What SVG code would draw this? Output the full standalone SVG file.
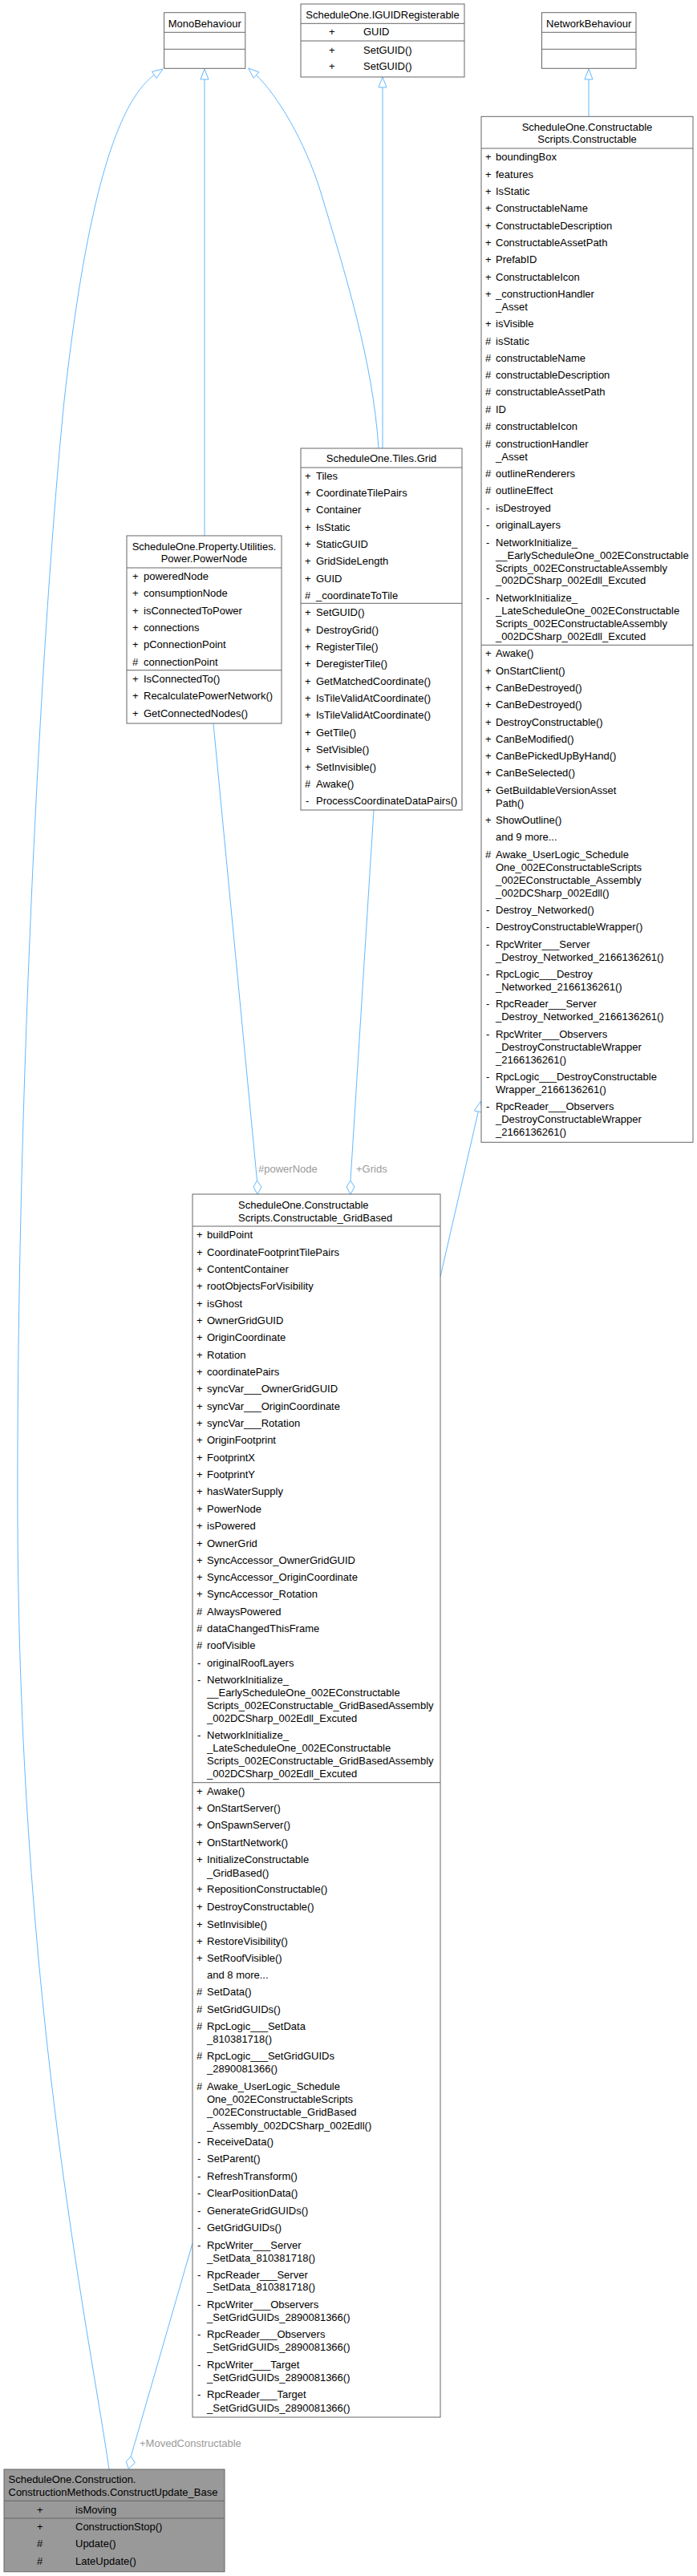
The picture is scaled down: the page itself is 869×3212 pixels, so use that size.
<svg xmlns="http://www.w3.org/2000/svg" width="869" height="3212" viewBox="0 0 869 3212">
<style>
.bg{fill:#fff}
.box{fill:#fff;stroke:#666;stroke-width:1}
.sel{fill:#999;stroke:#666;stroke-width:1}
.sep{stroke:#666;stroke-width:1;fill:none}
text{font-family:"Liberation Sans",Arial,sans-serif;font-size:13px;fill:#000}
.c{text-anchor:middle}
.e{stroke:#63b8ff;stroke-width:1;fill:none}
.ah{stroke:#63b8ff;stroke-width:1;fill:#fff}
.lbl{fill:#9a9a9a}
</style>
<rect class="bg" x="0" y="0" width="869" height="3212"/>

<g id="connectors">
  <!-- MonoBehaviour <- ConstructUpdate_Base -->
  <path class="e" d="M192.3,93.4 C150,125 110,230 80,500 C50,800 20,1400 22,1900 C25,2500 110,2900 136,3079"/>
  <polygon class="ah" points="203,86 195.1,97.5 189.5,89.3"/>
  <!-- MonoBehaviour <- PowerNode -->
  <path class="e" d="M255,99 L255,668"/>
  <polygon class="ah" points="255,86 260,99 250,99"/>
  <!-- MonoBehaviour <- Grid -->
  <path class="e" d="M319.5,93.6 C345,118 380,175 400,240 C430,340 465,450 472,559"/>
  <polygon class="ah" points="309.7,85 322.8,89.8 316.2,97.4"/>
  <!-- IGUIDRegisterable <- Grid -->
  <path class="e" d="M477,109 L477,559"/>
  <polygon class="ah" points="477,96 482,109 472,109"/>
  <!-- NetworkBehaviour <- Constructable -->
  <path class="e" d="M734,99 L734,145"/>
  <polygon class="ah" points="734,86 739,99 729,99"/>
  <!-- Constructable <- GridBased -->
  <path class="e" d="M596.3,1386 L549,1592"/>
  <polygon class="ah" points="599.3,1373.3 601.2,1387.1 591.4,1384.9"/>
  <!-- PowerNode -> GridBased (#powerNode) -->
  <path class="e" d="M266,902 L320.5,1472"/>
  <polygon class="ah" points="320.5,1472 326,1480 321,1489 316,1480"/>
  <text class="lbl" x="322" y="1462">#powerNode</text>
  <!-- Grid -> GridBased (+Grids) -->
  <path class="e" d="M466,1010 L437,1472"/>
  <polygon class="ah" points="437,1472 442,1480 437,1489 432,1480"/>
  <text class="lbl" x="444" y="1462">+Grids</text>
  <!-- GridBased -> ConstructUpdate_Base (+MovedConstructable) -->
  <path class="e" d="M240,2797 L163.3,3062.7"/>
  <polygon class="ah" points="163.3,3062.7 168.3,3071 160.3,3078.3 157.3,3069.3"/>
  <text class="lbl" x="174" y="3051">+MovedConstructable</text>
</g>

<g id="MonoBehaviour">
  <rect class="box" x="204.6" y="15.7" width="101.2" height="69.6"/>
  <line class="sep" x1="204.6" y1="40.3" x2="305.8" y2="40.3"/>
  <line class="sep" x1="204.6" y1="61.3" x2="305.8" y2="61.3"/>
  <text class="c" x="255.2" y="34.2">MonoBehaviour</text>
</g>

<g id="IGUIDRegisterable">
  <rect class="box" x="375" y="5" width="204" height="91"/>
  <line class="sep" x1="375" y1="29.3" x2="579" y2="29.3"/>
  <line class="sep" x1="375" y1="51" x2="579" y2="51"/>
  <text class="c" x="477" y="23.2">ScheduleOne.IGUIDRegisterable</text>
  <text y="44"><tspan x="410">+</tspan><tspan x="453">GUID</tspan></text>
  <text y="66.5"><tspan x="410">+</tspan><tspan x="453">SetGUID()</tspan></text>
  <text y="87"><tspan x="410">+</tspan><tspan x="453">SetGUID()</tspan></text>
</g>

<g id="NetworkBehaviour">
  <rect class="box" x="675.5" y="15.7" width="117.5" height="69.6"/>
  <line class="sep" x1="675.5" y1="40.3" x2="793" y2="40.3"/>
  <line class="sep" x1="675.5" y1="61.3" x2="793" y2="61.3"/>
  <text class="c" x="734.2" y="34.2">NetworkBehaviour</text>
</g>

<g id="Constructable">
  <rect class="box" x="600" y="145.3" width="264" height="1279"/>
  <line class="sep" x1="600" y1="185" x2="864" y2="185"/>
  <line class="sep" x1="600" y1="804.3" x2="864" y2="804.3"/>
  <text class="c" x="732" y="163">ScheduleOne.Constructable</text>
  <text class="c" x="732" y="178.3">Scripts.Constructable</text>
  <text y="200"><tspan x="605">+</tspan><tspan x="618">boundingBox</tspan></text>
  <text y="222"><tspan x="605">+</tspan><tspan x="618">features</tspan></text>
  <text y="243"><tspan x="605">+</tspan><tspan x="618">IsStatic</tspan></text>
  <text y="264"><tspan x="605">+</tspan><tspan x="618">ConstructableName</tspan></text>
  <text y="285.5"><tspan x="605">+</tspan><tspan x="618">ConstructableDescription</tspan></text>
  <text y="306.5"><tspan x="605">+</tspan><tspan x="618">ConstructableAssetPath</tspan></text>
  <text y="328"><tspan x="605">+</tspan><tspan x="618">PrefabID</tspan></text>
  <text y="349.5"><tspan x="605">+</tspan><tspan x="618">ConstructableIcon</tspan></text>
  <text y="371"><tspan x="605">+</tspan><tspan x="618">_constructionHandler</tspan></text>
  <text x="618" y="387">_Asset</text>
  <text y="408"><tspan x="605">+</tspan><tspan x="618">isVisible</tspan></text>
  <text y="429.5"><tspan x="605">#</tspan><tspan x="618">isStatic</tspan></text>
  <text y="450.5"><tspan x="605">#</tspan><tspan x="618">constructableName</tspan></text>
  <text y="472"><tspan x="605">#</tspan><tspan x="618">constructableDescription</tspan></text>
  <text y="493"><tspan x="605">#</tspan><tspan x="618">constructableAssetPath</tspan></text>
  <text y="514.5"><tspan x="605">#</tspan><tspan x="618">ID</tspan></text>
  <text y="536"><tspan x="605">#</tspan><tspan x="618">constructableIcon</tspan></text>
  <text y="558"><tspan x="605">#</tspan><tspan x="618">constructionHandler</tspan></text>
  <text x="618" y="573.5">_Asset</text>
  <text y="595"><tspan x="605">#</tspan><tspan x="618">outlineRenderers</tspan></text>
  <text y="616"><tspan x="605">#</tspan><tspan x="618">outlineEffect</tspan></text>
  <text y="638"><tspan x="606">-</tspan><tspan x="618">isDestroyed</tspan></text>
  <text y="659"><tspan x="606">-</tspan><tspan x="618">originalLayers</tspan></text>
  <text y="680.5"><tspan x="606">-</tspan><tspan x="618">NetworkInitialize_</tspan></text>
  <text x="618" y="696.5">__EarlyScheduleOne_002EConstructable</text>
  <text x="618" y="712.5">Scripts_002EConstructableAssembly</text>
  <text x="618" y="728">_002DCSharp_002Edll_Excuted</text>
  <text y="750"><tspan x="606">-</tspan><tspan x="618">NetworkInitialize_</tspan></text>
  <text x="618" y="766">_LateScheduleOne_002EConstructable</text>
  <text x="618" y="782">Scripts_002EConstructableAssembly</text>
  <text x="618" y="797.5">_002DCSharp_002Edll_Excuted</text>
  <text y="819"><tspan x="605">+</tspan><tspan x="618">Awake()</tspan></text>
  <text y="840.5"><tspan x="605">+</tspan><tspan x="618">OnStartClient()</tspan></text>
  <text y="862"><tspan x="605">+</tspan><tspan x="618">CanBeDestroyed()</tspan></text>
  <text y="883"><tspan x="605">+</tspan><tspan x="618">CanBeDestroyed()</tspan></text>
  <text y="904.5"><tspan x="605">+</tspan><tspan x="618">DestroyConstructable()</tspan></text>
  <text y="925.5"><tspan x="605">+</tspan><tspan x="618">CanBeModified()</tspan></text>
  <text y="947"><tspan x="605">+</tspan><tspan x="618">CanBePickedUpByHand()</tspan></text>
  <text y="968"><tspan x="605">+</tspan><tspan x="618">CanBeSelected()</tspan></text>
  <text y="989.5"><tspan x="605">+</tspan><tspan x="618">GetBuildableVersionAsset</tspan></text>
  <text x="618" y="1006">Path()</text>
  <text y="1027"><tspan x="605">+</tspan><tspan x="618">ShowOutline()</tspan></text>
  <text x="618" y="1048">and 9 more...</text>
  <text y="1070"><tspan x="605">#</tspan><tspan x="618">Awake_UserLogic_Schedule</tspan></text>
  <text x="618" y="1085.5">One_002EConstructableScripts</text>
  <text x="618" y="1102">_002EConstructable_Assembly</text>
  <text x="618" y="1118">_002DCSharp_002Edll()</text>
  <text y="1139"><tspan x="606">-</tspan><tspan x="618">Destroy_Networked()</tspan></text>
  <text y="1160"><tspan x="606">-</tspan><tspan x="618">DestroyConstructableWrapper()</tspan></text>
  <text y="1182"><tspan x="606">-</tspan><tspan x="618">RpcWriter___Server</tspan></text>
  <text x="618" y="1198">_Destroy_Networked_2166136261()</text>
  <text y="1219"><tspan x="606">-</tspan><tspan x="618">RpcLogic___Destroy</tspan></text>
  <text x="618" y="1235">_Networked_2166136261()</text>
  <text y="1256"><tspan x="606">-</tspan><tspan x="618">RpcReader___Server</tspan></text>
  <text x="618" y="1272">_Destroy_Networked_2166136261()</text>
  <text y="1294"><tspan x="606">-</tspan><tspan x="618">RpcWriter___Observers</tspan></text>
  <text x="618" y="1309.5">_DestroyConstructableWrapper</text>
  <text x="618" y="1325.5">_2166136261()</text>
  <text y="1347"><tspan x="606">-</tspan><tspan x="618">RpcLogic___DestroyConstructable</tspan></text>
  <text x="618" y="1363">Wrapper_2166136261()</text>
  <text y="1384"><tspan x="606">-</tspan><tspan x="618">RpcReader___Observers</tspan></text>
  <text x="618" y="1400">_DestroyConstructableWrapper</text>
  <text x="618" y="1416">_2166136261()</text>
</g>

<g id="Grid">
  <rect class="box" x="375" y="559" width="201" height="451"/>
  <line class="sep" x1="375" y1="583" x2="576" y2="583"/>
  <line class="sep" x1="375" y1="752.3" x2="576" y2="752.3"/>
  <text class="c" x="475.5" y="575.5">ScheduleOne.Tiles.Grid</text>
  <text y="597.5"><tspan x="380">+</tspan><tspan x="394">Tiles</tspan></text>
  <text y="619"><tspan x="380">+</tspan><tspan x="394">CoordinateTilePairs</tspan></text>
  <text y="640"><tspan x="380">+</tspan><tspan x="394">Container</tspan></text>
  <text y="661.5"><tspan x="380">+</tspan><tspan x="394">IsStatic</tspan></text>
  <text y="682.5"><tspan x="380">+</tspan><tspan x="394">StaticGUID</tspan></text>
  <text y="704"><tspan x="380">+</tspan><tspan x="394">GridSideLength</tspan></text>
  <text y="726"><tspan x="380">+</tspan><tspan x="394">GUID</tspan></text>
  <text y="747"><tspan x="380">#</tspan><tspan x="394">_coordinateToTile</tspan></text>
  <text y="768"><tspan x="380">+</tspan><tspan x="394">SetGUID()</tspan></text>
  <text y="789.5"><tspan x="380">+</tspan><tspan x="394">DestroyGrid()</tspan></text>
  <text y="810.5"><tspan x="380">+</tspan><tspan x="394">RegisterTile()</tspan></text>
  <text y="832"><tspan x="380">+</tspan><tspan x="394">DeregisterTile()</tspan></text>
  <text y="854"><tspan x="380">+</tspan><tspan x="394">GetMatchedCoordinate()</tspan></text>
  <text y="875"><tspan x="380">+</tspan><tspan x="394">IsTileValidAtCoordinate()</tspan></text>
  <text y="896"><tspan x="380">+</tspan><tspan x="394">IsTileValidAtCoordinate()</tspan></text>
  <text y="918"><tspan x="380">+</tspan><tspan x="394">GetTile()</tspan></text>
  <text y="939"><tspan x="380">+</tspan><tspan x="394">SetVisible()</tspan></text>
  <text y="960.5"><tspan x="380">+</tspan><tspan x="394">SetInvisible()</tspan></text>
  <text y="982"><tspan x="380">#</tspan><tspan x="394">Awake()</tspan></text>
  <text y="1003"><tspan x="381">-</tspan><tspan x="394">ProcessCoordinateDataPairs()</tspan></text>
</g>

<g id="PowerNode">
  <rect class="box" x="158" y="668" width="193" height="234"/>
  <line class="sep" x1="158" y1="708" x2="351" y2="708"/>
  <line class="sep" x1="158" y1="835.7" x2="351" y2="835.7"/>
  <text class="c" x="254.5" y="686">ScheduleOne.Property.Utilities.</text>
  <text class="c" x="254.5" y="701.2">Power.PowerNode</text>
  <text y="723"><tspan x="165">+</tspan><tspan x="179">poweredNode</tspan></text>
  <text y="744"><tspan x="165">+</tspan><tspan x="179">consumptionNode</tspan></text>
  <text y="766"><tspan x="165">+</tspan><tspan x="179">isConnectedToPower</tspan></text>
  <text y="787"><tspan x="165">+</tspan><tspan x="179">connections</tspan></text>
  <text y="808"><tspan x="165">+</tspan><tspan x="179">pConnectionPoint</tspan></text>
  <text y="830"><tspan x="165">#</tspan><tspan x="179">connectionPoint</tspan></text>
  <text y="851"><tspan x="165">+</tspan><tspan x="179">IsConnectedTo()</tspan></text>
  <text y="872"><tspan x="165">+</tspan><tspan x="179">RecalculatePowerNetwork()</tspan></text>
  <text y="894"><tspan x="165">+</tspan><tspan x="179">GetConnectedNodes()</tspan></text>
</g>

<g id="Constructable_GridBased">
  <rect class="box" x="240" y="1489" width="309" height="1525"/>
  <line class="sep" x1="240" y1="1529" x2="549" y2="1529"/>
  <line class="sep" x1="240" y1="2222.7" x2="549" y2="2222.7"/>
  <text x="297" y="1507">ScheduleOne.Constructable</text>
  <text x="297" y="1523">Scripts.Constructable_GridBased</text>
  <text y="1544"><tspan x="245">+</tspan><tspan x="258">buildPoint</tspan></text>
  <text y="1566"><tspan x="245">+</tspan><tspan x="258">CoordinateFootprintTilePairs</tspan></text>
  <text y="1587"><tspan x="245">+</tspan><tspan x="258">ContentContainer</tspan></text>
  <text y="1608"><tspan x="245">+</tspan><tspan x="258">rootObjectsForVisibility</tspan></text>
  <text y="1630"><tspan x="245">+</tspan><tspan x="258">isGhost</tspan></text>
  <text y="1651"><tspan x="245">+</tspan><tspan x="258">OwnerGridGUID</tspan></text>
  <text y="1672"><tspan x="245">+</tspan><tspan x="258">OriginCoordinate</tspan></text>
  <text y="1694"><tspan x="245">+</tspan><tspan x="258">Rotation</tspan></text>
  <text y="1715"><tspan x="245">+</tspan><tspan x="258">coordinatePairs</tspan></text>
  <text y="1736"><tspan x="245">+</tspan><tspan x="258">syncVar___OwnerGridGUID</tspan></text>
  <text y="1758"><tspan x="245">+</tspan><tspan x="258">syncVar___OriginCoordinate</tspan></text>
  <text y="1779"><tspan x="245">+</tspan><tspan x="258">syncVar___Rotation</tspan></text>
  <text y="1800"><tspan x="245">+</tspan><tspan x="258">OriginFootprint</tspan></text>
  <text y="1822"><tspan x="245">+</tspan><tspan x="258">FootprintX</tspan></text>
  <text y="1843"><tspan x="245">+</tspan><tspan x="258">FootprintY</tspan></text>
  <text y="1864"><tspan x="245">+</tspan><tspan x="258">hasWaterSupply</tspan></text>
  <text y="1886"><tspan x="245">+</tspan><tspan x="258">PowerNode</tspan></text>
  <text y="1907"><tspan x="245">+</tspan><tspan x="258">isPowered</tspan></text>
  <text y="1928.5"><tspan x="245">+</tspan><tspan x="258">OwnerGrid</tspan></text>
  <text y="1950"><tspan x="245">+</tspan><tspan x="258">SyncAccessor_OwnerGridGUID</tspan></text>
  <text y="1971"><tspan x="245">+</tspan><tspan x="258">SyncAccessor_OriginCoordinate</tspan></text>
  <text y="1992"><tspan x="245">+</tspan><tspan x="258">SyncAccessor_Rotation</tspan></text>
  <text y="2014"><tspan x="245">#</tspan><tspan x="258">AlwaysPowered</tspan></text>
  <text y="2035"><tspan x="245">#</tspan><tspan x="258">dataChangedThisFrame</tspan></text>
  <text y="2056"><tspan x="245">#</tspan><tspan x="258">roofVisible</tspan></text>
  <text y="2078"><tspan x="246">-</tspan><tspan x="258">originalRoofLayers</tspan></text>
  <text y="2099"><tspan x="246">-</tspan><tspan x="258">NetworkInitialize_</tspan></text>
  <text x="258" y="2115">__EarlyScheduleOne_002EConstructable</text>
  <text x="258" y="2131">Scripts_002EConstructable_GridBasedAssembly</text>
  <text x="258" y="2147">_002DCSharp_002Edll_Excuted</text>
  <text y="2168"><tspan x="246">-</tspan><tspan x="258">NetworkInitialize_</tspan></text>
  <text x="258" y="2184">_LateScheduleOne_002EConstructable</text>
  <text x="258" y="2200">Scripts_002EConstructable_GridBasedAssembly</text>
  <text x="258" y="2216">_002DCSharp_002Edll_Excuted</text>
  <text y="2238"><tspan x="245">+</tspan><tspan x="258">Awake()</tspan></text>
  <text y="2259"><tspan x="245">+</tspan><tspan x="258">OnStartServer()</tspan></text>
  <text y="2280"><tspan x="245">+</tspan><tspan x="258">OnSpawnServer()</tspan></text>
  <text y="2302"><tspan x="245">+</tspan><tspan x="258">OnStartNetwork()</tspan></text>
  <text y="2323"><tspan x="245">+</tspan><tspan x="258">InitializeConstructable</tspan></text>
  <text x="258" y="2339.5">_GridBased()</text>
  <text y="2360"><tspan x="245">+</tspan><tspan x="258">RepositionConstructable()</tspan></text>
  <text y="2382"><tspan x="245">+</tspan><tspan x="258">DestroyConstructable()</tspan></text>
  <text y="2403.5"><tspan x="245">+</tspan><tspan x="258">SetInvisible()</tspan></text>
  <text y="2424.5"><tspan x="245">+</tspan><tspan x="258">RestoreVisibility()</tspan></text>
  <text y="2446"><tspan x="245">+</tspan><tspan x="258">SetRoofVisible()</tspan></text>
  <text x="258" y="2467">and 8 more...</text>
  <text y="2488"><tspan x="245">#</tspan><tspan x="258">SetData()</tspan></text>
  <text y="2509.5"><tspan x="245">#</tspan><tspan x="258">SetGridGUIDs()</tspan></text>
  <text y="2531"><tspan x="245">#</tspan><tspan x="258">RpcLogic___SetData</tspan></text>
  <text x="258" y="2546.5">_810381718()</text>
  <text y="2568"><tspan x="245">#</tspan><tspan x="258">RpcLogic___SetGridGUIDs</tspan></text>
  <text x="258" y="2584">_2890081366()</text>
  <text y="2606"><tspan x="245">#</tspan><tspan x="258">Awake_UserLogic_Schedule</tspan></text>
  <text x="258" y="2621.5">One_002EConstructableScripts</text>
  <text x="258" y="2638">_002EConstructable_GridBased</text>
  <text x="258" y="2654.5">_Assembly_002DCSharp_002Edll()</text>
  <text y="2675"><tspan x="246">-</tspan><tspan x="258">ReceiveData()</tspan></text>
  <text y="2696"><tspan x="246">-</tspan><tspan x="258">SetParent()</tspan></text>
  <text y="2718"><tspan x="246">-</tspan><tspan x="258">RefreshTransform()</tspan></text>
  <text y="2739"><tspan x="246">-</tspan><tspan x="258">ClearPositionData()</tspan></text>
  <text y="2760.5"><tspan x="246">-</tspan><tspan x="258">GenerateGridGUIDs()</tspan></text>
  <text y="2782"><tspan x="246">-</tspan><tspan x="258">GetGridGUIDs()</tspan></text>
  <text y="2803.5"><tspan x="246">-</tspan><tspan x="258">RpcWriter___Server</tspan></text>
  <text x="258" y="2819.5">_SetData_810381718()</text>
  <text y="2840.5"><tspan x="246">-</tspan><tspan x="258">RpcReader___Server</tspan></text>
  <text x="258" y="2856">_SetData_810381718()</text>
  <text y="2878"><tspan x="246">-</tspan><tspan x="258">RpcWriter___Observers</tspan></text>
  <text x="258" y="2894">_SetGridGUIDs_2890081366()</text>
  <text y="2915"><tspan x="246">-</tspan><tspan x="258">RpcReader___Observers</tspan></text>
  <text x="258" y="2931">_SetGridGUIDs_2890081366()</text>
  <text y="2952.5"><tspan x="246">-</tspan><tspan x="258">RpcWriter___Target</tspan></text>
  <text x="258" y="2968.5">_SetGridGUIDs_2890081366()</text>
  <text y="2990"><tspan x="246">-</tspan><tspan x="258">RpcReader___Target</tspan></text>
  <text x="258" y="3006.5">_SetGridGUIDs_2890081366()</text>
</g>

<g id="ConstructUpdate_Base">
  <rect class="sel" x="5" y="3079" width="275" height="127.7"/>
  <line class="sep" x1="5" y1="3118.3" x2="280" y2="3118.3"/>
  <line class="sep" x1="5" y1="3140" x2="280" y2="3140"/>
  <text x="10.5" y="3095.5">ScheduleOne.Construction.</text>
  <text x="10.5" y="3112">ConstructionMethods.ConstructUpdate_Base</text>
  <text y="3133.5"><tspan x="46">+</tspan><tspan x="94">isMoving</tspan></text>
  <text y="3155"><tspan x="46">+</tspan><tspan x="94">ConstructionStop()</tspan></text>
  <text y="3176"><tspan x="46">#</tspan><tspan x="94">Update()</tspan></text>
  <text y="3198"><tspan x="46">#</tspan><tspan x="94">LateUpdate()</tspan></text>
</g>
</svg>
